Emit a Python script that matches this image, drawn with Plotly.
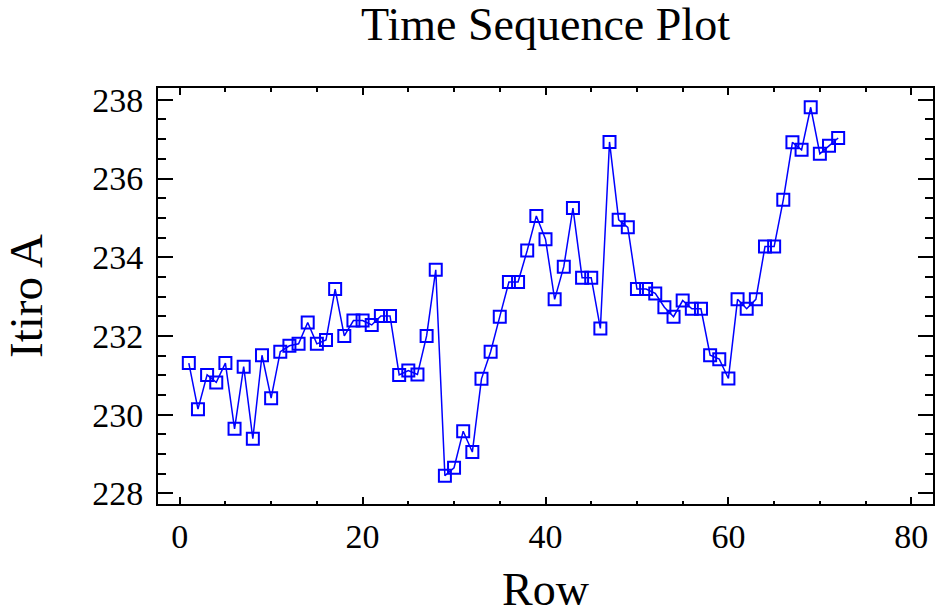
import plotly.graph_objects as go

rows = list(range(1, 73))
itiro_a = [
    231.31, 230.14, 231.01, 230.82, 231.31, 229.64, 231.22, 229.39, 231.51, 230.42,
    231.60, 231.75, 231.80, 232.34, 231.80, 231.90, 233.19, 232.00, 232.39, 232.39,
    232.28, 232.51, 232.51, 231.01, 231.12, 231.02, 232.00, 233.68, 228.45, 228.65,
    229.58, 229.05, 230.91, 231.60, 232.49, 233.37, 233.37, 234.17, 235.05, 234.46,
    232.93, 233.76, 235.25, 233.48, 233.48, 232.19, 236.93, 234.95, 234.76, 233.19,
    233.19, 233.08, 232.73, 232.49, 232.90, 232.69, 232.69, 231.51, 231.41, 230.92,
    232.93, 232.69, 232.93, 234.27, 234.27, 235.46, 236.92, 236.73, 237.81, 236.63,
    236.83, 237.03,
]
x_ticks = [0, 20, 40, 60, 80]
y_ticks = [228, 230, 232, 234, 236, 238]

FONT = "Liberation Serif, Times New Roman, serif"
BLUE = "#0000FF"

fig = go.Figure(
    go.Scatter(
        x=rows,
        y=itiro_a,
        mode="lines+markers",
        line=dict(color=BLUE, width=1.5),
        marker=dict(symbol="square-open", size=12, color=BLUE,
                    line=dict(width=2, color=BLUE)),
        showlegend=False,
    )
)

axis_common = dict(
    showline=True, linecolor="black", linewidth=2, mirror="allticks",
    ticks="inside", tickcolor="black", tickwidth=1.5,
    showgrid=False, zeroline=False,
    tickfont=dict(family=FONT, size=34, color="black"),
)

fig.update_layout(
    width=936, height=615,
    margin=dict(l=158, r=1, t=88, b=111),
    paper_bgcolor="white", plot_bgcolor="white",
    font=dict(family=FONT, color="black"),
    title=dict(text="Time Sequence Plot", x=0.5, xref="paper", xanchor="center",
               y=1 - 24 / 615, yref="container", yanchor="middle",
               font=dict(family=FONT, size=46, color="black")),
    xaxis=dict(
        range=[-2.37, 82.37], tickvals=x_ticks, ticklen=7,
        minor=dict(dtick=5, tick0=0, ticklen=3.5, ticks="inside", tickcolor="black", tickwidth=1.5),
        ticklabelstandoff=1,
        title=dict(text="Row", font=dict(family=FONT, size=46, color="black"), standoff=20),
        **axis_common,
    ),
    yaxis=dict(
        range=[227.73, 238.30], tickvals=y_ticks, ticklen=15,
        minor=dict(dtick=0.5, tick0=228, ticklen=8, ticks="inside", tickcolor="black", tickwidth=1.5),
        ticklabelstandoff=6,
        title=dict(text="Itiro A", font=dict(family=FONT, size=47, color="black"), standoff=38),
        **axis_common,
    ),
)

fig.write_html("out.html")
